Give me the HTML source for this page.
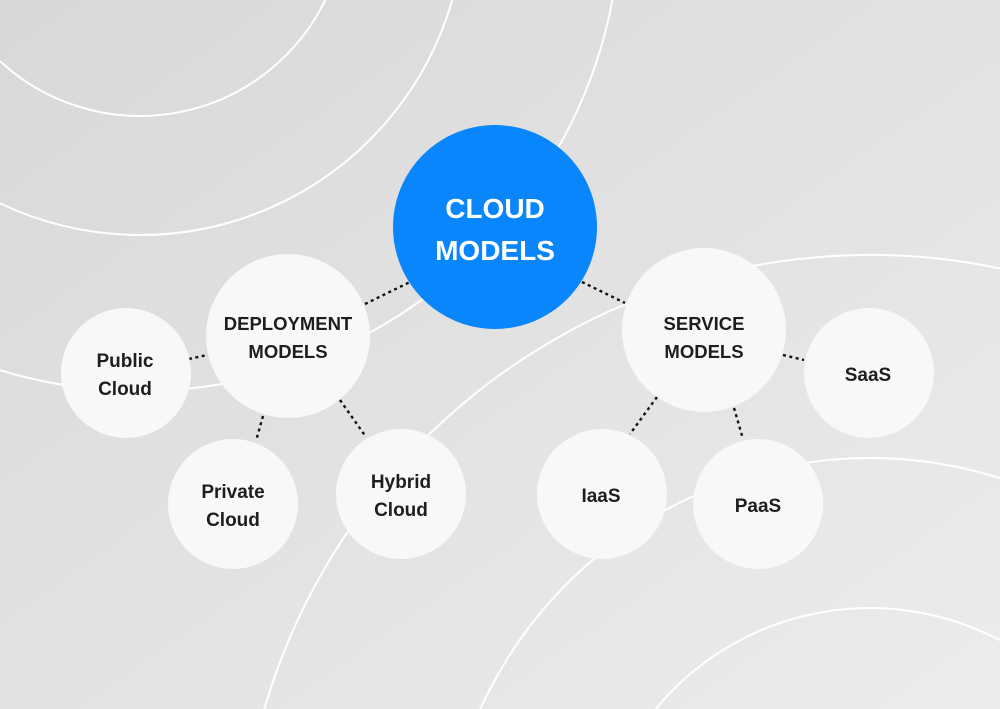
<!DOCTYPE html>
<html>
<head>
<meta charset="utf-8">
<style>
  html,body{margin:0;padding:0;width:1000px;height:709px;overflow:hidden;}
  svg{display:block;overflow:hidden;}
  text{font-family:"Liberation Sans",sans-serif;font-weight:bold;text-anchor:middle;}
</style>
</head>
<body>
<svg width="1000" height="709" viewBox="0 0 1000 709" xmlns="http://www.w3.org/2000/svg">
  <defs>
    <linearGradient id="bg" x1="0" y1="0" x2="1" y2="1">
      <stop offset="0" stop-color="#d8d8d8"/>
      <stop offset="1" stop-color="#ececec"/>
    </linearGradient>
  </defs>
  <rect x="0" y="0" width="1000" height="709" fill="url(#bg)"/>

  <!-- background arcs -->
  <g fill="none" stroke="#ffffff" stroke-width="2">
    <path d="M0,61.1 A206,206 0 0,0 325.3,0"/>
    <path d="M0,203.3 A325,325 0 0,0 452.3,0"/>
    <path d="M0,370.2 A481,481 0 0,0 612.5,0"/>
    <path d="M655.6,709 A278,278 0 0,1 1000,640.3"/>
    <path d="M480.3,709 A428,428 0 0,1 1000,478.2"/>
    <path d="M264.3,709 A631,631 0 0,1 1000,268.5"/>
  </g>

  <!-- dotted connectors -->
  <g stroke="#111" stroke-width="2.4" stroke-dasharray="3 3.5" fill="none">
    <line x1="365" y1="304" x2="410" y2="282"/>
    <line x1="582" y1="282" x2="625" y2="303"/>
    <line x1="189" y1="359" x2="207" y2="355"/>
    <line x1="263" y1="416" x2="256" y2="441"/>
    <line x1="340" y1="400" x2="366" y2="437"/>
    <line x1="657" y1="397" x2="630" y2="434"/>
    <line x1="734" y1="408" x2="743" y2="439"/>
    <line x1="783" y1="355" x2="804" y2="360"/>
  </g>

  <!-- nodes -->
  <g fill="#f8f8f8">
    <circle cx="288" cy="336" r="82"/>
    <circle cx="704" cy="330" r="82"/>
    <circle cx="126" cy="373" r="65"/>
    <circle cx="233" cy="504" r="65"/>
    <circle cx="401" cy="494" r="65"/>
    <circle cx="602" cy="494" r="65"/>
    <circle cx="758" cy="504" r="65"/>
    <circle cx="869" cy="373" r="65"/>
  </g>
  <circle cx="495" cy="227" r="102" fill="#0a86fd"/>

  <!-- labels -->
  <g fill="#ffffff" font-size="28">
    <text x="495" y="218">CLOUD</text>
    <text x="495" y="260">MODELS</text>
  </g>
  <g fill="#1e1e1e" font-size="18.5">
    <text x="288" y="330">DEPLOYMENT</text>
    <text x="288" y="358">MODELS</text>
    <text x="704" y="330">SERVICE</text>
    <text x="704" y="358">MODELS</text>
  </g>
  <g fill="#1e1e1e" font-size="19">
    <text x="125" y="367">Public</text>
    <text x="125" y="395">Cloud</text>
    <text x="233" y="498">Private</text>
    <text x="233" y="526">Cloud</text>
    <text x="401" y="488">Hybrid</text>
    <text x="401" y="516">Cloud</text>
    <text x="868" y="381">SaaS</text>
    <text x="601" y="502">IaaS</text>
    <text x="758" y="512">PaaS</text>
  </g>
</svg>
</body>
</html>
